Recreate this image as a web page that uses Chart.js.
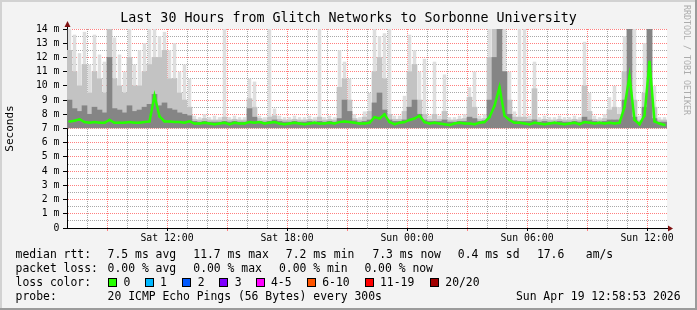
<!DOCTYPE html>
<html>
<head>
<meta charset="utf-8">
<title>SmokePing - Glitch Networks to Sorbonne University</title>
<script src="https://cdn.jsdelivr.net/npm/chart.js@4.4.1/dist/chart.umd.min.js"></script>
<style>
  html, body { margin: 0; padding: 0; background: #f3f3f3; }
  #wrap { width: 697px; height: 310px; }
</style>
</head>
<body>
<div id="wrap"><canvas id="myChart" width="697" height="310"></canvas></div>
<script>
// time axis: hours since Sat 00:00, one bin every 15 minutes
const startHour = 7;
const binSize = 0.25;
const smokeFloor = 7.05;

// top of the light smoke (slowest pings), ms
const smokeMax = [
  14, 13.6, 12.3, 13.8, 11.5, 13.6, 12.2, 11.7, 14, 13.4,
  12.2, 11, 14, 11.5, 12.5, 13, 14, 14, 13.5, 13.8,
  12.5, 13, 11, 11.5, 10.5, 7.9, 7.8, 8.0, 7.8, 7.9,
  7.8, 14, 7.8, 7.9, 7.8, 7.8, 10.5, 10.3, 7.9, 7.8,
  14, 8.4, 7.9, 7.8, 7.8, 7.9, 7.8, 7.8, 7.9, 7.8,
  14, 7.8, 7.9, 7.8, 12.5, 11.7, 10.5, 8.0, 7.8, 8.2,
  9.5, 14, 13.5, 13.7, 14, 7.9, 7.9, 9.3, 13.6, 12.5,
  11, 11.9, 7.9, 11.7, 7.9, 10.8, 7.8, 7.8, 7.9, 8.0,
  9.9, 11, 7.9, 8.0, 14, 14, 14, 14, 11, 8.2,
  14, 14, 7.9, 11.7, 7.8, 7.9, 7.8, 7.8, 7.9, 7.8,
  7.8, 7.9, 7.8, 13.1, 9.5, 7.9, 7.8, 8.0, 9.2, 10,
  8.5, 13.5, 14, 14, 7.9, 13, 14, 10, 7.8, 7.8
];
// middle smoke band
const smokeHigh = [
  12.5, 11, 10, 11.5, 9.5, 11, 10.5, 9.5, 14, 10.5,
  10, 9.5, 12, 10, 10, 11, 11.5, 12, 12, 12.5,
  10.5, 10.5, 9.5, 9, 8.5, 7.65, 7.6, 7.7, 7.6, 7.6,
  7.6, 7.8, 7.6, 7.65, 7.6, 7.6, 9.1, 8.5, 7.7, 7.6,
  7.8, 7.9, 7.65, 7.6, 7.6, 7.65, 7.6, 7.6, 7.65, 7.6,
  7.8, 7.6, 7.65, 7.6, 9.9, 10.5, 9, 7.7, 7.6, 7.8,
  8.2, 11, 12, 10.5, 8, 7.65, 7.65, 8.2, 11, 11.5,
  9, 8, 7.65, 8, 7.65, 8.2, 7.6, 7.6, 7.65, 7.7,
  9.2, 8.5, 7.65, 7.7, 12, 14, 14, 11, 9, 7.8,
  7.8, 7.8, 7.65, 9.8, 7.6, 7.65, 7.6, 7.6, 7.65, 7.6,
  7.6, 7.65, 7.6, 10, 8.2, 7.65, 7.6, 7.7, 8.3, 8.5,
  8, 11, 14, 9, 7.6, 9.5, 14, 8.5, 7.6, 7.6
];
// dense (dark) smoke band
const smokeDark = [
  9, 8.4, 8.2, 8.6, 8, 8.5, 8.3, 8.1, 12, 8.4,
  8.3, 8.1, 8.6, 8.2, 8.3, 8.5, 8.7, 9.4, 8.6, 8.8,
  8.4, 8.3, 8.1, 8, 7.9, 7.5, 7.45, 7.5, 7.45, 7.45,
  7.45, 7.5, 7.45, 7.5, 7.45, 7.45, 8.4, 7.8, 7.5, 7.45,
  7.5, 7.6, 7.5, 7.45, 7.45, 7.5, 7.45, 7.45, 7.5, 7.45,
  7.5, 7.45, 7.5, 7.45, 7.7, 9, 8.2, 7.55, 7.45, 7.5,
  7.6, 8.8, 9.5, 8.3, 7.6, 7.5, 7.5, 7.6, 8.5, 9,
  8, 7.6, 7.5, 7.5, 7.5, 7.6, 7.45, 7.45, 7.5, 7.5,
  7.8, 7.7, 7.5, 7.55, 9, 12, 14, 11, 8, 7.55,
  7.5, 7.5, 7.5, 7.6, 7.45, 7.5, 7.45, 7.45, 7.5, 7.45,
  7.45, 7.5, 7.45, 7.8, 7.6, 7.5, 7.45, 7.5, 7.6, 7.6,
  7.6, 9, 14, 7.8, 7.45, 8.5, 14, 7.7, 7.45, 7.45
];
// median rtt, ms
const medianRtt = [
  7.5, 7.55, 7.65, 7.45, 7.4, 7.45, 7.4, 7.4, 7.6, 7.4,
  7.4, 7.4, 7.45, 7.4, 7.4, 7.45, 7.5, 9.3, 7.85, 7.5,
  7.5, 7.45, 7.45, 7.4, 7.5, 7.35, 7.35, 7.4, 7.35, 7.3,
  7.35, 7.4, 7.3, 7.4, 7.35, 7.35, 7.45, 7.4, 7.45, 7.35,
  7.4, 7.45, 7.35, 7.3, 7.35, 7.4, 7.35, 7.3, 7.35, 7.4,
  7.35, 7.35, 7.4, 7.35, 7.45, 7.5, 7.45, 7.4, 7.35, 7.35,
  7.4, 7.8, 7.7, 8.0, 7.45, 7.3, 7.4, 7.45, 7.6, 7.7,
  7.9, 7.45, 7.35, 7.4, 7.35, 7.3, 7.25, 7.35, 7.4, 7.35,
  7.35, 7.3, 7.4, 7.45, 7.8, 8.6, 9.9, 7.9, 7.6, 7.4,
  7.4, 7.35, 7.3, 7.4, 7.35, 7.3, 7.35, 7.4, 7.35, 7.3,
  7.35, 7.4, 7.3, 7.45, 7.4, 7.35, 7.4, 7.35, 7.4, 7.35,
  7.4, 8.5, 10.7, 7.6, 7.3, 7.9, 11.7, 7.5, 7.35, 7.25
];

const tickHours = [12, 18, 24, 30, 36];
const tickLabels = ["Sat 12:00", "Sat 18:00", "Sun 00:00", "Sun 06:00", "Sun 12:00"];

const lossLabels = ["0", "1", "2", "3", "4-5", "6-10", "11-19", "20/20"];
const lossColors = ["#26ff00", "#00b8ff", "#0059ff", "#7e00ff", "#ff00ff", "#ff5500", "#ff0000", "#a10000"];

const rttStats = ["7.5 ms avg", "11.7 ms max", "7.2 ms min", "7.3 ms now", "0.4 ms sd", "17.6", "am/s"];
const lossStats = ["0.00 % avg", "0.00 % max", "0.00 % min", "0.00 % now"];

const binHours = medianRtt.map((_, i) => startHour + binSize / 2 + i * binSize);
function band(tops) {
  return tops.map((v, i) => ({ x: binHours[i], y: [smokeFloor, v] }));
}

const font = '"DejaVu Sans Mono"';
Chart.defaults.font.family = font;
Chart.defaults.color = "#000";

const majorGrid = "rgba(255, 0, 0, 0.5)";
const minorGrid = "rgba(110, 110, 110, 0.6)";

const rrdFrame = {
  id: "rrdFrame",
  beforeDraw(chart) {
    const { ctx, chartArea: a, width, height } = chart;
    ctx.save();
    ctx.fillStyle = "#f3f3f3";
    ctx.fillRect(0, 0, width, height);
    ctx.fillStyle = "#d2d2d2";
    ctx.fillRect(0, 0, width, 2);
    ctx.fillRect(0, 0, 2, height);
    ctx.fillStyle = "#9b9b9b";
    ctx.fillRect(width - 2, 0, 2, height);
    ctx.fillRect(0, height - 2, width, 2);
    ctx.fillStyle = "#ffffff";
    ctx.fillRect(a.left, a.top, a.right - a.left, a.bottom - a.top);
    ctx.restore();
  },
  afterDraw(chart) {
    const { ctx, chartArea: a } = chart;
    ctx.save();
    // axis ends and arrows
    ctx.strokeStyle = "#000";
    ctx.lineWidth = 1;
    ctx.beginPath();
    ctx.moveTo(a.right, a.bottom + 0.5);
    ctx.lineTo(a.right + 3, a.bottom + 0.5);
    ctx.moveTo(a.left + 0.5, a.top);
    ctx.lineTo(a.left + 0.5, a.top - 3);
    ctx.stroke();
    ctx.fillStyle = "#7f1010";
    ctx.beginPath();
    ctx.moveTo(a.right + 1, a.bottom - 2.5);
    ctx.lineTo(a.right + 6, a.bottom + 0.5);
    ctx.lineTo(a.right + 1, a.bottom + 3.5);
    ctx.closePath();
    ctx.fill();
    ctx.beginPath();
    ctx.moveTo(a.left - 2.5, a.top - 2);
    ctx.lineTo(a.left + 0.5, a.top - 8);
    ctx.lineTo(a.left + 3.5, a.top - 2);
    ctx.closePath();
    ctx.fill();

    // legend / comments
    ctx.fillStyle = "#000";
    ctx.font = "11.4px " + font;
    ctx.textBaseline = "alphabetic";
    ctx.textAlign = "left";
    const rttX = [107.6, 193.3, 285.8, 372.4, 457.8, 536.9, 585.8];
    ctx.fillText("median rtt:", 15.6, 257.5);
    rttStats.forEach((t, i) => ctx.fillText(t, rttX[i], 257.5));
    const lossX = [107.6, 193.3, 279, 364.4];
    ctx.fillText("packet loss:", 15.6, 271.8);
    lossStats.forEach((t, i) => ctx.fillText(t, lossX[i], 271.8));
    const colX = [123.6, 160, 197.8, 234.7, 271, 322.2, 380, 445.3];
    ctx.fillText("loss color:", 15.6, 286.1);
    lossLabels.forEach((t, i) => {
      const bx = Math.round(colX[i] - 15.5);
      ctx.fillStyle = lossColors[i];
      ctx.fillRect(bx, 278, 9, 9);
      ctx.strokeStyle = "#000";
      ctx.strokeRect(bx + 0.5, 278.5, 8, 8);
      ctx.fillStyle = "#000";
      ctx.fillText(t, colX[i], 286.1);
    });
    ctx.fillText("probe:", 15.6, 300.4);
    ctx.fillText("20 ICMP Echo Pings (56 Bytes) every 300s", 107.6, 300.4);
    ctx.textAlign = "right";
    ctx.fillText("Sun Apr 19 12:58:53 2026", 680.5, 300.4);

    // watermark
    ctx.textAlign = "left";
    ctx.fillStyle = "#acacac";
    ctx.font = "8.3px " + font;
    ctx.translate(683.5, 5);
    ctx.rotate(Math.PI / 2);
    ctx.fillText("RRDTOOL / TOBI OETIKER", 0, 0);
    ctx.restore();
  }
};

const ctx = document.getElementById("myChart").getContext("2d");
const smokeChart = new Chart(ctx, {
  type: "bar",
  data: {
    datasets: [
      {
        type: "line",
        label: "median rtt",
        data: medianRtt.map((v, i) => ({ x: binHours[i], y: v })),
        borderColor: "#26ff00",
        backgroundColor: "#26ff00",
        borderWidth: 2.5,
        pointRadius: 1.2,
        pointBorderWidth: 0,
        tension: 0,
        order: 1
      },
      { label: "dense", data: band(smokeDark), backgroundColor: "#858585", order: 2 },
      { label: "mid", data: band(smokeHigh), backgroundColor: "#c3c3c3", order: 3 },
      { label: "max", data: band(smokeMax), backgroundColor: "#dedede", barPercentage: 0.7, order: 4 }
    ]
  },
  options: {
    responsive: false,
    animation: false,
    devicePixelRatio: 1,
    layout: { padding: { left: 0, right: 0, top: 0, bottom: 62 } },
    datasets: {
      bar: { grouped: false, barPercentage: 1, categoryPercentage: 1, borderWidth: 0 }
    },
    plugins: {
      legend: { display: false },
      tooltip: { enabled: false },
      title: {
        display: true,
        text: "Last 30 Hours from Glitch Networks to Sorbonne University",
        font: { family: font, size: 13.3, weight: "normal", lineHeight: "16px" },
        color: "#000",
        padding: { top: 11, bottom: 2 }
      }
    },
    scales: {
      x: {
        type: "linear",
        min: startHour,
        max: startHour + 30,
        offset: false,
        z: 1,
        afterBuildTicks(scale) {
          const t = [];
          for (let h = startHour; h < startHour + 30; h++) t.push({ value: h });
          scale.ticks = t;
        },
        afterFit(scale) { scale.height = 20; },
        ticks: {
          autoSkip: false,
          maxRotation: 0,
          padding: 2,
          font: { size: 9.8 },
          callback(value) {
            const k = tickHours.indexOf(value);
            return k >= 0 ? tickLabels[k] : "";
          }
        },
        grid: {
          offset: false,
          tickLength: 3,
          color: (c) => (c.tick && c.tick.value % 3 === 0 ? majorGrid : minorGrid),
          tickColor: (c) => {
            if (!c.tick) return "transparent";
            if (tickHours.includes(c.tick.value)) return "#000";
            return c.tick.value % 3 === 0 ? "#ff8080" : "transparent";
          }
        },
        border: { display: true, color: "#000", width: 1, dash: [1, 1] }
      },
      y: {
        type: "linear",
        min: 0,
        max: 14,
        z: 1,
        afterFit(scale) { scale.width = 67; },
        title: {
          display: true,
          text: "Seconds",
          font: { family: font, size: 11 },
          color: "#000"
        },
        ticks: {
          stepSize: 0.5,
          autoSkip: false,
          padding: 3.5,
          font: { size: 9.8 },
          callback(value) {
            if (value === 0) return "0";
            return Number.isInteger(value) ? value + " m" : "";
          }
        },
        grid: {
          tickLength: 4,
          color: (c) => (c.tick && Number.isInteger(c.tick.value) ? majorGrid : minorGrid),
          tickColor: (c) => (c.tick && Number.isInteger(c.tick.value) ? "#000" : "transparent")
        },
        border: { display: true, color: "#000", width: 1, dash: [1, 1] }
      },
      y2: {
        type: "linear",
        position: "right",
        display: true,
        afterFit(scale) { scale.width = 30; },
        ticks: { display: false },
        grid: { display: false, drawTicks: false },
        border: { display: false }
      }
    }
  },
  plugins: [rrdFrame]
});
</script>
</body>
</html>
